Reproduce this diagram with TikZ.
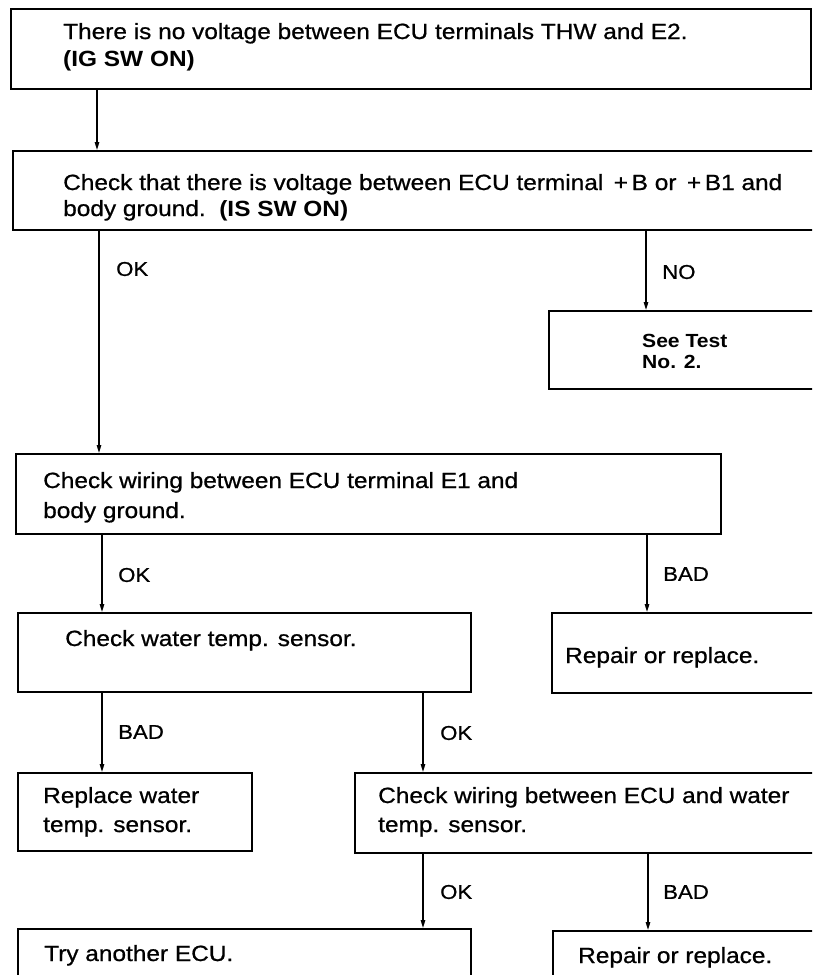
\documentclass[tikz,border=0pt]{standalone}
\usepackage{fontspec}
\setmainfont{Liberation Sans}[FakeStretch=1.11, UprightFeatures={FakeBold=0.8}]
\usetikzlibrary{arrows.meta}
\begin{document}
\begin{tikzpicture}[
  x=1pt, y=-1pt,
  box/.style={draw, line width=1.8pt, rectangle, anchor=north west, inner sep=0pt},
  txt/.style={anchor=base west, inner sep=0pt, font=\fontsize{22}{26}\selectfont},
  btxt/.style={anchor=base west, inner sep=0pt, font=\fontsize{19}{21}\selectfont\bfseries},
  lbl/.style={anchor=west, inner sep=0pt, font=\fontsize{20}{22}\selectfont},
  arr/.style={line width=1.3pt, -{Triangle[length=8pt,width=4.5pt]}},
]
\useasboundingbox (0,0) rectangle (812,975);
\clip (0,0) rectangle (812,975);

% boxes
\node[box, minimum width=800pt, minimum height=80pt] (b1) at (10,8) {};
\node[box, minimum width=808pt, minimum height=79pt] (b2) at (12,150) {};
\node[box, minimum width=272pt, minimum height=78pt] (b3) at (548,310) {};
\node[box, minimum width=705pt, minimum height=80pt] (b4) at (15,453) {};
\node[box, minimum width=453pt, minimum height=79pt] (b5) at (17,612) {};
\node[box, minimum width=269pt, minimum height=80pt] (b6) at (551,612) {};
\node[box, minimum width=234pt, minimum height=78pt] (b7) at (17,772) {};
\node[box, minimum width=466pt, minimum height=80pt] (b8) at (354,772) {};
\node[box, minimum width=453pt, minimum height=60pt] (b9) at (17,928) {};
\node[box, minimum width=268pt, minimum height=60pt] (b10) at (552,930) {};

% box texts
\node[txt] (t1a) at (63,39) {There is no voltage between ECU terminals THW and E2.};
\node[txt] (t1b) at (63,66) {\bfseries (IG SW ON)};
\node[txt] (t2a) at (63,190) {Check that there is voltage between ECU terminal \,+\,B or \,+\,B1 and};
\node[txt] (t2b) at (63,216) {body ground.\ \ \textbf{(IS SW ON)}};
\node[btxt] (t3a) at (642,347) {See Test};
\node[btxt] (t3b) at (642,368) {No. 2.};
\node[txt] (t4a) at (43,488) {Check wiring between ECU terminal E1 and};
\node[txt] (t4b) at (43,518) {body ground.};
\node[txt] (t5) at (65,646) {Check water temp. sensor.};
\node[txt] (t6) at (565,663) {Repair or replace.};
\node[txt] (t7a) at (43,803) {Replace water};
\node[txt] (t7b) at (43,832) {temp. sensor.};
\node[txt] (t8a) at (378,803) {Check wiring between ECU and water};
\node[txt] (t8b) at (378,832) {temp. sensor.};
\node[txt] (t9) at (44,961) {Try another ECU.};
\node[txt] (t10) at (578,963) {Repair or replace.};

% connector columns
\coordinate (xa) at (97,0);
\coordinate (xb) at (99,0);
\coordinate (xc) at (646,0);
\coordinate (xd) at (102,0);
\coordinate (xe) at (647,0);
\coordinate (xf) at (423,0);
\coordinate (xg) at (648,0);

% connectors
\draw[arr] (xa |- b1.south) -- (xa |- b2.north);
\draw[arr] (xb |- b2.south) -- (xb |- b4.north);
\draw[arr] (xc |- b2.south) -- (xc |- b3.north);
\draw[arr] (xd |- b4.south) -- (xd |- b5.north);
\draw[arr] (xe |- b4.south) -- (xe |- b6.north);
\draw[arr] (xd |- b5.south) -- (xd |- b7.north);
\draw[arr] (xf |- b5.south) -- (xf |- b8.north);
\draw[arr] (xf |- b8.south) -- (xf |- b9.north);
\draw[arr] (xg |- b8.south) -- (xg |- b10.north);

% branch labels
\node[lbl] (l1) at (116,269) {OK};
\node[lbl] (l2) at (662,272) {NO};
\node[lbl] (l3) at (118,575) {OK};
\node[lbl] (l4) at (663,574) {BAD};
\node[lbl] (l5) at (118,732) {BAD};
\node[lbl] (l6) at (440,733) {OK};
\node[lbl] (l7) at (440,892) {OK};
\node[lbl] (l8) at (663,892) {BAD};
\end{tikzpicture}
\end{document}
